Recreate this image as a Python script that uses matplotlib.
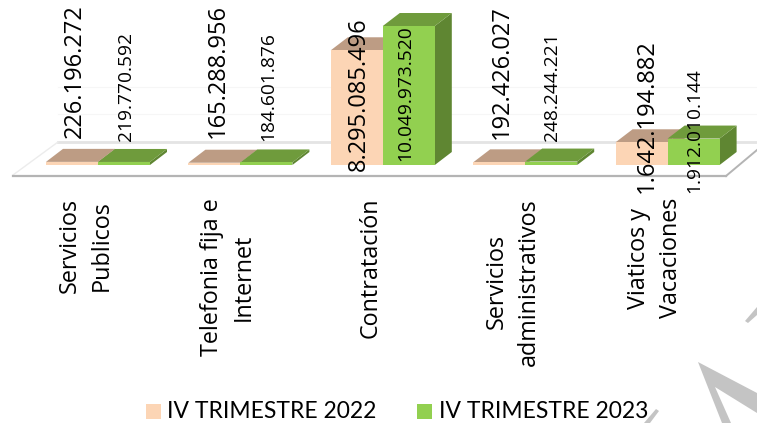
import matplotlib
matplotlib.use('Agg')
import matplotlib.pyplot as plt
from matplotlib.patches import Polygon, Rectangle

plt.rcParams['font.family'] = ['Open Sans', 'DejaVu Sans']

categories = ['Servicios\nPublicos', 'Telefonia fija e\nInternet', 'Contratación',
              'Servicios\nadministrativos', 'Viaticos y\nVacaciones']
valores_2022 = [226196272, 165288956, 8295085496, 192426027, 1642194882]
valores_2023 = [219770592, 184601876, 10049973520, 248244221, 1912010144]
etiquetas_2022 = ['226.196.272', '165.288.956', '8.295.085.496', '192.426.027', '1.642.194.882']
etiquetas_2023 = ['219.770.592', '184.601.876', '10.049.973.520', '248.244.221', '1.912.010.144']

W, H = 757, 423
PX_X = 142.4          # pixels per category
PX_Y = 13.83e-9       # pixels per peso
X0 = 98
Y0 = 165
BAR = 52 / PX_X
DX = 17 / PX_X        # 3d depth
DY = 13 / PX_Y

fig = plt.figure(figsize=(W / 100, H / 100), dpi=100)
ax = fig.add_axes([0, 0, 1, 1])
ax.set_xlim(-X0 / PX_X, (W - X0) / PX_X)
ax.set_ylim((Y0 - H) / PX_Y, Y0 / PX_Y)
ax.axis('off')


def px(x, y):
    # pixel position of the picture -> data position
    return (x - X0) / PX_X, (Y0 - y) / PX_Y


def poly(points, **kw):
    ax.add_patch(Polygon([px(*p) for p in points], closed=True, **kw))


# floor and faint walls
ax.plot(*zip(px(58, 142), px(757, 142)), color='#e4e4e4', lw=2, zorder=1)
ax.plot(*zip(px(13, 175), px(58, 142)), color='#ececec', lw=1, zorder=1)
ax.plot(*zip(px(13, 176), px(726, 176)), color='#b4b4b4', lw=1.6, zorder=2)
ax.plot(*zip(px(726, 176), px(757, 150)), color='#b4b4b4', lw=1.4, zorder=2)
for yy in [87, 114]:
    ax.plot(*zip(px(58, yy), px(757, yy)), color='#f6f6f6', lw=0.8, zorder=1)


def bar3d(x, value, front, top, side):
    x1 = x + BAR
    ax.add_patch(Polygon([(x1, 0), (x1 + DX, DY), (x1 + DX, value + DY), (x1, value)], fc=side, ec='none', zorder=3))
    ax.add_patch(Polygon([(x, value), (x + DX, value + DY), (x1 + DX, value + DY), (x1, value)], fc=top, ec='none', zorder=3))
    ax.add_patch(Rectangle((x, 0), BAR, value, fc=front, ec='none', zorder=4))


for i in range(len(categories)):
    bar3d(i - BAR, valores_2022[i], '#fcd5b5', '#bd9c84', '#bd9c84')
    bar3d(i, valores_2023[i], '#92d050', '#6f9b3c', '#5f8632')

# value labels, centre x and bottom y in picture pixels
lx_2022 = [75, 218, 359, 502, 647]
ly_2022 = [138, 138, 171, 139, 193]
lx_2023 = [126, 268, 405, 552, 694]
ly_2023 = [141, 141, 161, 141, 193]
for i in range(len(categories)):
    x, y = px(lx_2022[i], ly_2022[i])
    ax.text(x, y, etiquetas_2022[i], rotation=90, ha='center', va='bottom', fontsize=17, color='black', zorder=6)
    x, y = px(lx_2023[i], ly_2023[i])
    ax.text(x, y, etiquetas_2023[i], rotation=90, ha='center', va='bottom', fontsize=13.8, color='black', zorder=6)

# category labels
for i, cat in enumerate(categories):
    x, y = px(X0 + PX_X * i - 12.5, 198)
    ax.text(x, y, cat, rotation=90, ha='center', va='top', multialignment='center', fontsize=16.8, color='black', linespacing=1.42, zorder=6)

# watermark pieces
wm = [[(745, 321), (757, 307), (757, 315), (748, 323)],
      [(698, 362), (757, 393), (757, 413), (715, 387), (731, 423), (722, 423)],
      [(644, 423), (656, 409), (659, 411), (650, 423)]]
for pts in wm:
    poly(pts, fc='#c4c4c4', ec='none', zorder=0)

# legend drawn by hand so it sits at the same pixels
for xs, color, serie, tx in [(146, '#fcd5b5', 'IV TRIMESTRE 2022', 167), (417, '#92d050', 'IV TRIMESTRE 2023', 439)]:
    x, y = px(xs, 419)
    ax.add_patch(Rectangle((x, y), 15 / PX_X, 15 / PX_Y, fc=color, ec='none', zorder=6))
    x, y = px(tx, 411)
    ax.text(x, y, serie, ha='left', va='center', fontsize=16.5, family=['Lato', 'DejaVu Sans'], color='black', zorder=6)

fig.savefig('out.png', dpi=100)
